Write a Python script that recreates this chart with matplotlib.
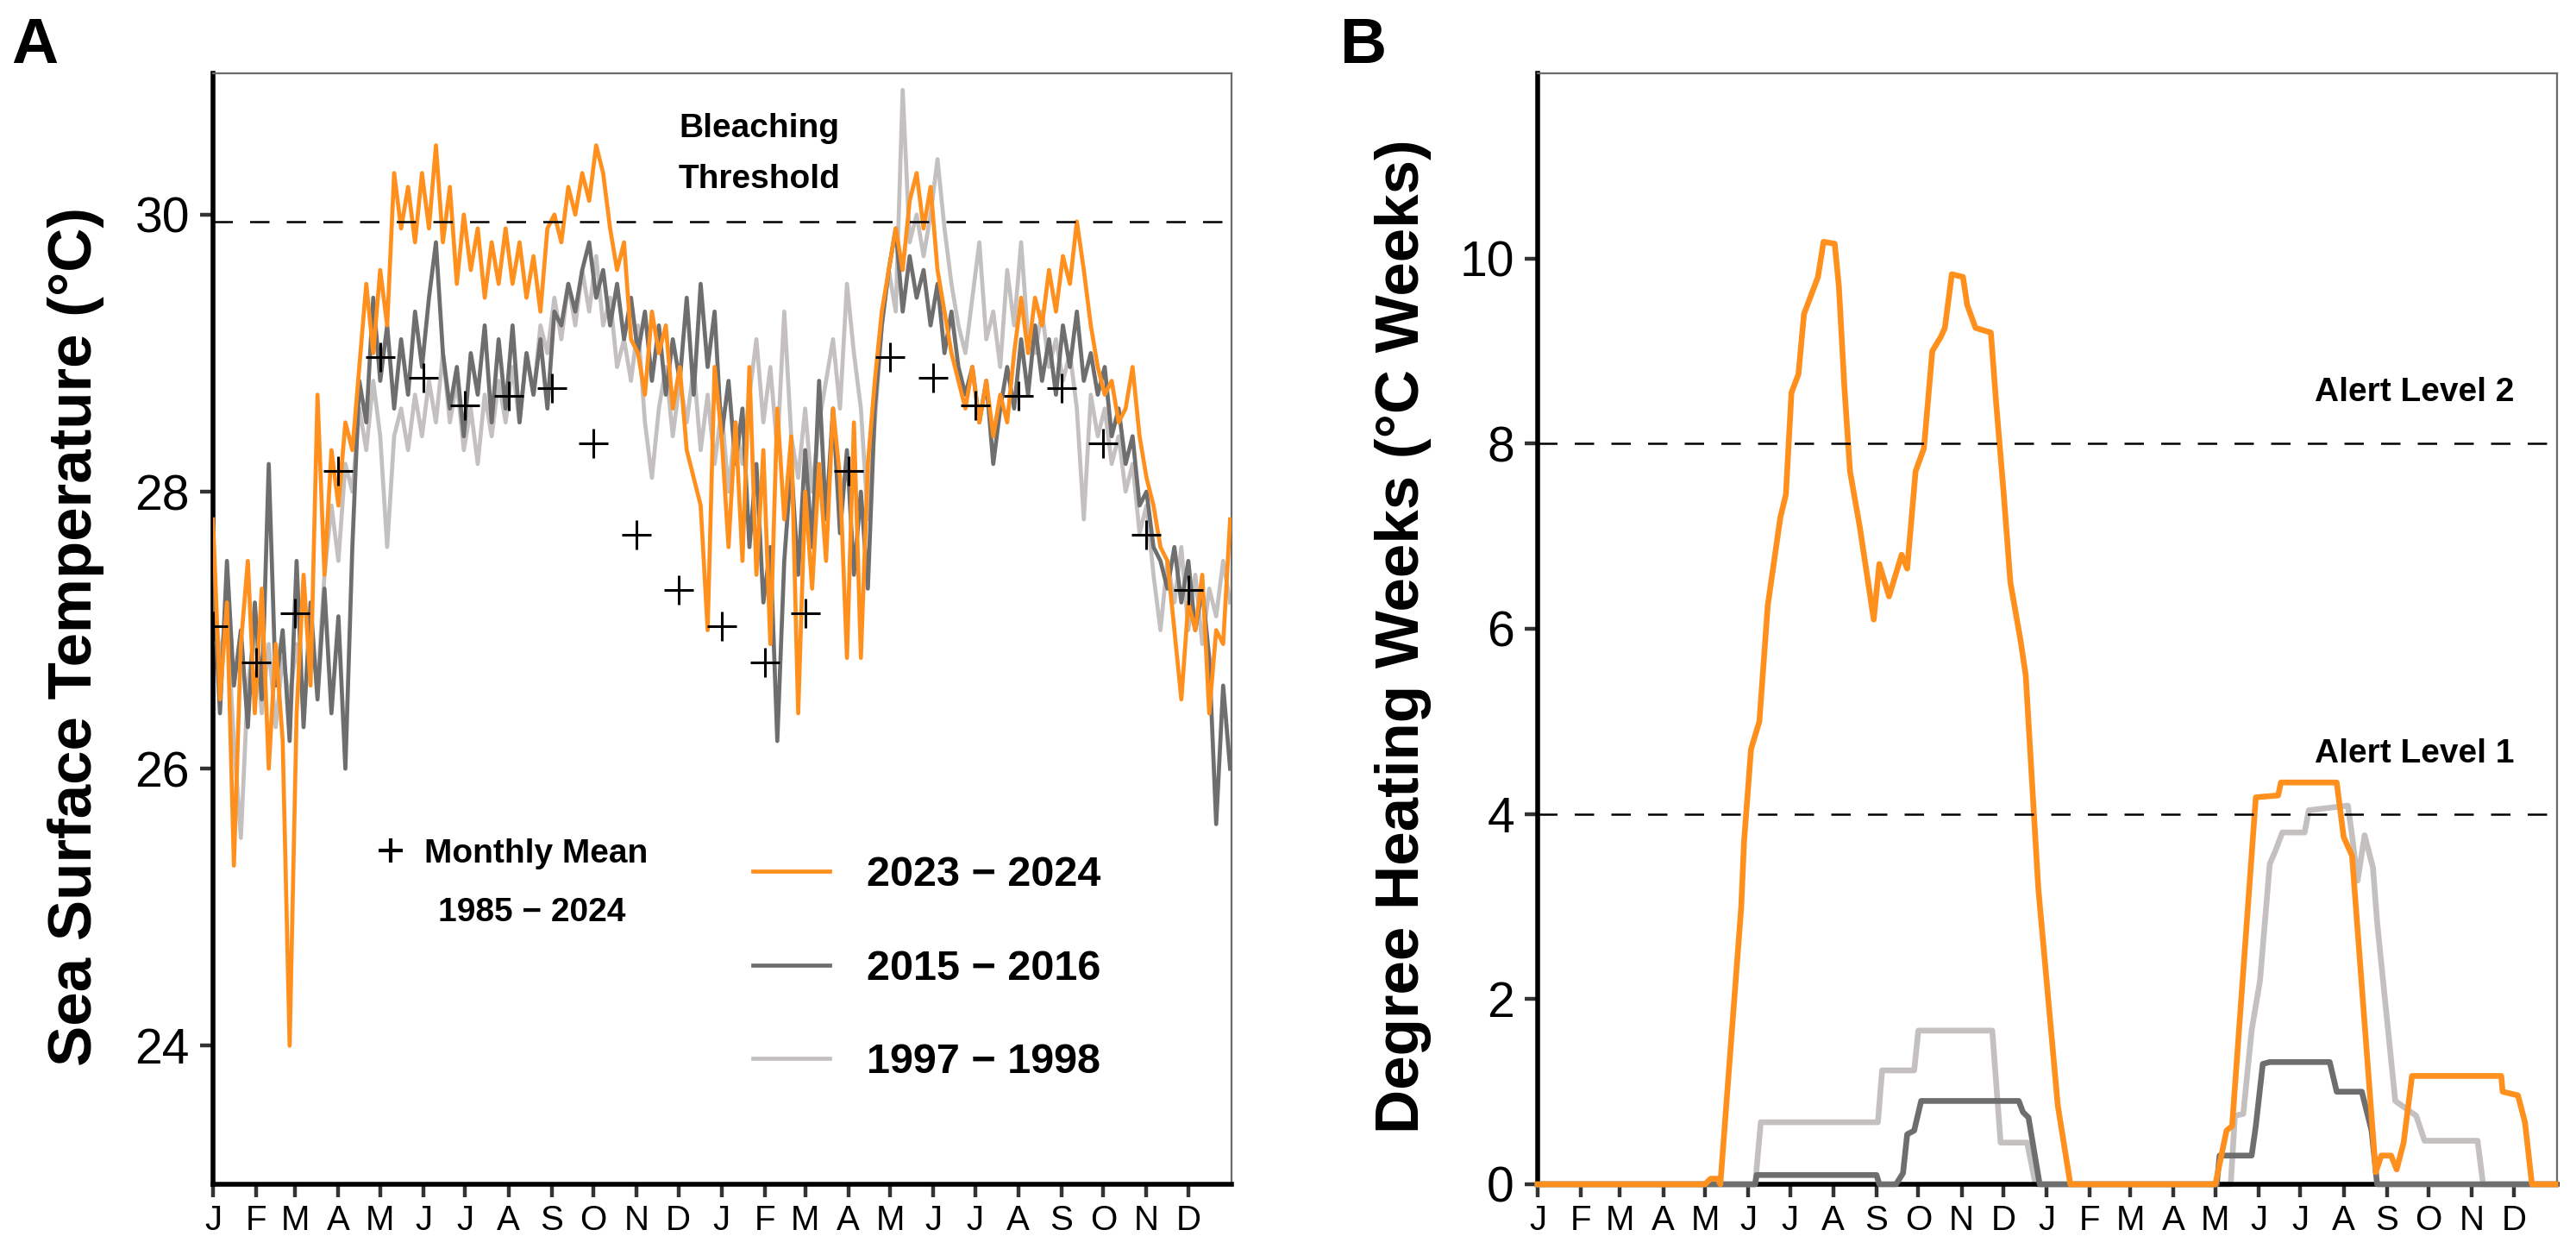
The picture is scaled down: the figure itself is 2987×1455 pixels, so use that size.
import numpy as np
import matplotlib
matplotlib.use('Agg')
import matplotlib.pyplot as plt
from matplotlib.lines import Line2D

plt.rcParams['font.family'] = ['Liberation Sans', 'DejaVu Sans']

# ---- data ----
# month starts (days) over the two-year window, second year is a leap year
month_starts = [0, 31, 59, 90, 120, 151, 181, 212, 243, 273, 304, 334,
                365, 396, 425, 456, 486, 517, 547, 578, 609, 639, 670, 700]
month_labels = list('JFMAMJJASOND') * 2

# monthly mean SST 1985-2024 (Jan..Dec)
monthly_mean = [27.03, 26.77, 27.12, 28.15, 28.97, 28.82,
                28.62, 28.69, 28.75, 28.35, 27.69, 27.29]
bleaching_threshold = 29.95

# SST sampled every 5 days from 1 Jan of the first year
sst_2023 = [27.8, 26.5, 27.2, 25.3, 26.9, 27.5,
            26.4, 27.3, 26.0, 26.9, 26.2, 24.0,
            26.4, 27.4, 26.6, 28.7, 27.4, 28.3,
            27.9, 28.5, 28.3, 28.9, 29.5, 29.0,
            29.6, 29.2, 30.3, 29.9, 30.2, 29.8,
            30.3, 29.9, 30.5, 29.8, 30.2, 29.5,
            30.0, 29.6, 29.9, 29.4, 29.8, 29.5,
            29.9, 29.5, 29.8, 29.4, 29.7, 29.3,
            29.9, 30.0, 29.8, 30.2, 30.0, 30.3,
            30.1, 30.5, 30.3, 29.9, 29.6, 29.8,
            29.1, 29.0, 28.7, 29.3, 29.0, 29.2,
            28.6, 28.9, 28.3, 28.1, 27.9, 27.0, 28.9,
            28.4, 27.6, 28.5, 27.5, 28.9, 27.4,
            28.3, 26.9, 28.6, 27.8, 28.4, 26.4,
            28.0, 27.3, 28.2, 27.5, 28.6, 28.1,
            26.8, 28.5, 26.8, 28.2, 28.8, 29.3,
            29.6, 29.9, 29.6, 30.1, 30.3, 29.9,
            30.2, 29.6, 29.3, 29.0, 28.8, 28.6,
            28.9, 28.5, 28.8, 28.4, 28.7, 28.5,
            29.0, 29.4, 29.0, 29.4, 29.2, 29.6,
            29.3, 29.7, 29.5, 29.95, 29.6, 29.2,
            28.9, 28.7, 28.8, 28.5, 28.6, 28.9,
            28.4, 28.1, 27.9, 27.6, 27.5, 27.0,
            26.5, 27.2, 27.0, 27.4, 26.4, 27.0, 26.9, 27.8]

sst_2015 = [27.4, 26.4, 27.5, 26.6, 27.0, 26.3,
            27.2, 26.5, 28.2, 26.6, 27.0, 26.2,
            27.5, 26.3, 27.2, 26.5, 27.3, 26.4,
            27.1, 26.0, 27.6, 28.8, 28.5, 29.4,
            28.8, 29.2, 28.6, 29.1, 28.7, 29.3,
            28.9, 29.4, 29.8, 29.0, 28.6, 28.9,
            28.4, 29.0, 28.7, 29.2, 28.5, 29.1,
            28.6, 29.2, 28.5, 29.0, 28.7, 29.1,
            28.6, 29.3, 29.2, 29.5, 29.3, 29.6,
            29.8, 29.4, 29.6, 29.2, 29.5, 29.1,
            29.4, 29.0, 29.3, 28.8, 29.2, 28.7,
            29.1, 28.8, 29.4, 28.7, 29.5, 28.9, 29.3,
            28.4, 28.8, 28.2, 28.6, 27.6, 28.2,
            27.2, 27.6, 26.2, 27.5, 28.2, 27.4,
            28.3, 27.6, 28.8, 27.8, 28.6, 27.7,
            28.3, 27.4, 28.0, 27.3, 28.6, 29.2,
            29.6, 29.9, 29.3, 29.7, 29.4, 29.6,
            29.2, 29.5, 29.0, 29.3, 28.9, 28.7,
            28.9, 28.5, 28.8, 28.2, 28.6, 28.9,
            28.6, 29.1, 28.7, 29.2, 28.8, 29.1,
            28.7, 29.2, 28.9, 29.3, 28.8, 29.0,
            28.7, 28.9, 28.4, 28.6, 28.2, 28.4,
            27.9, 28.0, 27.6, 27.5, 27.3, 27.6,
            27.2, 27.5, 27.0, 27.3, 26.8, 25.6, 26.6, 26.0]

sst_1997 = [27.3, 26.8, 27.1, 26.2, 25.5, 26.6,
            27.0, 26.4, 26.9, 26.3, 26.8, 26.5,
            26.9, 26.4, 27.0, 26.6, 27.4, 27.9,
            27.5, 28.2, 28.0, 28.6, 28.3, 28.8,
            28.4, 27.6, 28.4, 28.6, 28.3, 28.7,
            28.4, 28.8, 28.5, 29.0, 28.5, 28.8,
            28.3, 28.6, 28.2, 28.7, 28.4, 28.8,
            28.5, 28.9, 28.5, 29.0, 28.7, 29.2,
            29.0, 29.4, 29.1, 29.5, 29.2, 29.6,
            29.3, 29.7, 29.2, 29.4, 28.9, 29.1,
            28.8, 29.2, 28.5, 28.1, 28.6, 28.9,
            28.4, 28.8, 28.5, 28.9, 28.3, 28.7, 28.2,
            28.6, 28.0, 28.5, 28.2, 28.7, 29.1,
            28.5, 28.9, 28.3, 29.3, 28.4, 28.1,
            28.6, 28.0, 28.5, 28.8, 29.1, 28.6,
            29.5, 29.0, 28.6, 27.8, 28.5, 29.2,
            29.6, 29.3, 30.9, 29.8, 30.0, 29.7,
            30.0, 30.4, 29.9, 29.5, 29.2, 29.0,
            29.4, 29.8, 29.1, 29.3, 28.9, 29.6,
            29.2, 29.8, 29.1, 29.0, 29.3, 28.9,
            29.1, 28.8, 29.0, 28.6, 27.8, 28.7,
            28.4, 28.6, 28.2, 28.4, 28.0, 28.2,
            27.7, 27.9, 27.4, 27.0, 27.5, 27.2,
            27.6, 27.0, 27.4, 26.9, 27.3, 27.1, 27.5, 27.2]

# degree heating weeks (day, value) breakpoints
dhw_days_2023 = [0, 120, 124, 129, 131, 146, 148, 153, 159, 165, 174, 178, 182,
                 187, 191, 196, 201, 205, 213, 216, 220, 224, 231, 236, 241, 245,
                 252, 261, 265, 271, 277, 283, 289, 292, 297, 305, 308, 314, 325,
                 329, 334, 339, 346, 350, 359, 373, 382, 486, 494, 498, 515, 531,
                 533, 573, 578, 584, 601, 605, 612, 616, 621, 627, 691, 692, 703,
                 708, 713, 730]
dhw_2023 = [0, 0, 0.06, 0.06, 0, 3.0, 3.7, 4.7, 5.0, 6.25, 7.2, 7.45, 8.55,
            8.75, 9.4, 9.6, 9.8, 10.18, 10.16, 9.7, 8.6, 7.7, 7.1, 6.6, 6.1, 6.7,
            6.35, 6.8, 6.65, 7.7, 7.95, 9.0, 9.15, 9.25, 9.83, 9.8, 9.5, 9.25, 9.2,
            8.4, 7.5, 6.5, 5.9, 5.5, 3.2, 0.85, 0, 0, 0.58, 0.63, 4.18, 4.2,
            4.34, 4.34, 3.75, 3.55, 0.13, 0.31, 0.31, 0.16, 0.45, 1.17, 1.17, 1.0, 0.96,
            0.67, 0, 0]

dhw_days_2015 = [0, 156, 157, 243, 245, 257, 262, 265, 270, 275, 345, 348, 352,
                 360, 487, 489, 512, 515, 520, 525, 568, 573, 591, 598, 602, 730]
dhw_2015 = [0, 0, 0.1, 0.1, 0, 0, 0.12, 0.54, 0.58, 0.9, 0.9, 0.78, 0.72,
            0, 0, 0.31, 0.31, 0.63, 1.3, 1.32, 1.32, 1.0, 1.0, 0.58, 0, 0]

dhw_days_1997 = [0, 156, 160, 244, 247, 270, 273, 326, 332, 351, 357, 497, 500,
                 506, 512, 518, 525, 529, 534, 550, 553, 581, 584, 588, 593, 599,
                 602, 615, 630, 636, 674, 678, 730]
dhw_1997 = [0, 0, 0.67, 0.67, 1.23, 1.23, 1.66, 1.66, 0.45, 0.45, 0, 0, 0.74,
            0.76, 1.66, 2.2, 3.46, 3.6, 3.8, 3.8, 4.04, 4.09, 3.77, 3.28, 3.77, 3.42,
            2.83, 0.9, 0.74, 0.47, 0.47, 0, 0]

c_2023 = '#FF901E'
c_2015 = '#6E6E6E'
c_1997 = '#C4C0C0'

# ---- figure ----
W, H = 2987, 1455
fig = plt.figure(figsize=(W / 100, H / 100), dpi=100)


def box(l, t, r, b):
    return [l / W, 1 - b / H, (r - l) / W, (b - t) / H]


axA = fig.add_axes(box(247, 85, 1428, 1373))
axB = fig.add_axes(box(1783, 85, 2965, 1373))


def style(ax):
    for s in ['left', 'bottom']:
        ax.spines[s].set_linewidth(4.0)
        ax.spines[s].set_color('black')
    for s in ['top', 'right']:
        ax.spines[s].set_linewidth(1.6)
        ax.spines[s].set_color('#6b6b6b')
    ax.tick_params(axis='both', direction='out', length=10.5, width=3.2, color='#333333')
    ax.tick_params(axis='y', labelsize=41, pad=9)
    ax.tick_params(axis='x', labelsize=29, pad=6)
    ax.set_xticks(month_starts)
    ax.set_xticklabels(month_labels)
    ax.set_xlim(0, 731)


# ---- panel A ----
days = np.arange(len(sst_2023)) * 5
l97, = axA.plot(days, sst_1997, color=c_1997, lw=3.4, zorder=2)
l15, = axA.plot(days, sst_2015, color=c_2015, lw=3.4, zorder=3)
l23, = axA.plot(days, sst_2023, color=c_2023, lw=3.4, zorder=4)
axA.axhline(bleaching_threshold, color='black', lw=1.8, ls=(0, (9, 8)), zorder=5)
axA.plot(month_starts, monthly_mean * 2, ls='none', marker='+', ms=24, mew=2.2,
         color='black', zorder=6)

style(axA)
axA.set_ylim(23.0, 31.02)
axA.set_yticks([24, 26, 28, 30])

axA.text(392, 30.56, 'Bleaching', ha='center', va='baseline', fontsize=28, fontweight='bold')
axA.text(392, 30.19, 'Threshold', ha='center', va='baseline', fontsize=28, fontweight='bold')

leg1 = axA.legend(handles=[Line2D([], [], ls='none', marker='+', color='black', ms=20, mew=3)],
                  labels=['Monthly Mean'], loc='upper left', bbox_to_anchor=(0.158, 0.3116),
                  frameon=False, borderpad=0, borderaxespad=0, handlelength=1.0,
                  handletextpad=0.49, prop=dict(weight='bold', size=28))
axA.add_artist(leg1)
axA.text(228.7, 24.9, '1985 \u2212 2024', ha='center', va='baseline', fontsize=28, fontweight='bold')

axA.legend(handles=[l23, l15, l97], labels=['2023 \u2212 2024', '2015 \u2212 2016', '1997 \u2212 1998'],
           loc='upper left', bbox_to_anchor=(0.530, 0.2955), frameon=False, borderpad=0,
           borderaxespad=0, handlelength=1.84, handletextpad=0.87, labelspacing=1.30,
           prop=dict(weight='bold', size=35))

# ---- panel B ----
axB.plot(dhw_days_1997, dhw_1997, color=c_1997, lw=4.8, zorder=2, clip_on=False)
axB.plot(dhw_days_2015, dhw_2015, color=c_2015, lw=4.8, zorder=3, clip_on=False)
axB.plot(dhw_days_2023, dhw_2023, color=c_2023, lw=4.8, zorder=4, clip_on=False)
axB.axhline(8, color='black', lw=1.8, ls=(0, (9, 8)), zorder=5)
axB.axhline(4, color='black', lw=1.8, ls=(0, (9, 8)), zorder=5)

style(axB)
axB.set_ylim(0, 12)
axB.set_yticks([0, 2, 4, 6, 8, 10])
axB.text(629, 8.46, 'Alert Level 2', ha='center', va='baseline', fontsize=28, fontweight='bold')
axB.text(629, 4.56, 'Alert Level 1', ha='center', va='baseline', fontsize=28, fontweight='bold')

# ---- labels ----
fig.text(88 / W, 1 - 738 / H, 'Sea Surface Temperature (\u00b0C)', rotation=90,
         ha='center', va='center', fontsize=51, fontweight='bold')
fig.text(1627 / W, 1 - 738 / H, 'Degree Heating Weeks (\u00b0C Weeks)', rotation=90,
         ha='center', va='center', fontsize=51, fontweight='bold')
fig.text(13 / W, 1 - 73 / H, 'A', ha='left', va='baseline', fontsize=54, fontweight='bold')
fig.text(1554 / W, 1 - 73 / H, 'B', ha='left', va='baseline', fontsize=54, fontweight='bold')

fig.savefig('out.png', dpi=100)
